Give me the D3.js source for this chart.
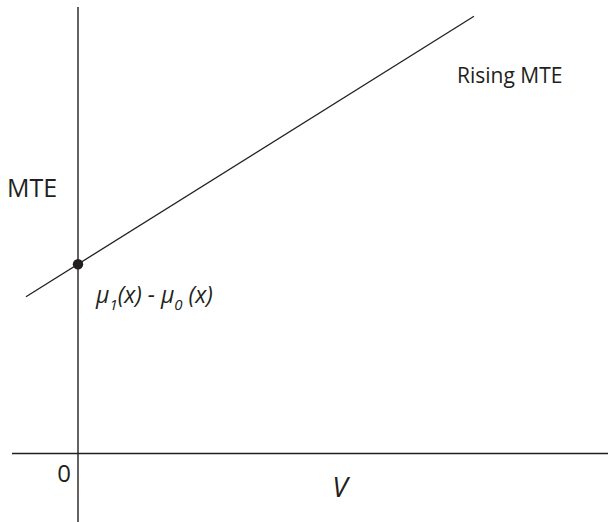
<!DOCTYPE html>
<html>
<head>
<meta charset="utf-8">
<script src="https://cdn.jsdelivr.net/npm/d3@7"></script>
<style>
html,body{margin:0;padding:0;background:#fff;}
svg{display:block;}
text{font-family:"Open Sans",sans-serif;fill:#231f20;}
</style>
</head>
<body>
<svg id="chart" width="608" height="522"></svg>
<script>
// Data (V on x, MTE on y)
const lineV = [-0.13, 0.99];
const lineMTE = [0.392, 1.093];
const interceptV = [0];
const interceptMTE = [0.473];
const xAxisExtent = [-0.165, 1.325];
const yAxisExtent = [-0.172, 1.116];
const labels = ["MTE", "0", "V", "Rising MTE"];

const svg = d3.select("#chart");
const x = d3.scaleLinear().domain([0, 1]).range([78, 478]);
const y = d3.scaleLinear().domain([0, 1]).range([453.5, 53.5]);
const ink = "#231f20";

// axes
svg.append("line")
  .attr("x1", x(xAxisExtent[0])).attr("x2", x(xAxisExtent[1]))
  .attr("y1", y(0)).attr("y2", y(0))
  .attr("stroke", ink).attr("stroke-width", 1.4);
svg.append("line")
  .attr("x1", x(0)).attr("x2", x(0))
  .attr("y1", y(yAxisExtent[1])).attr("y2", y(yAxisExtent[0]))
  .attr("stroke", ink).attr("stroke-width", 1.4);

// MTE line
const pts = lineV.map((v, i) => [v, lineMTE[i]]);
svg.append("path")
  .datum(pts)
  .attr("d", d3.line().x(d => x(d[0])).y(d => y(d[1])))
  .attr("fill", "none").attr("stroke", ink).attr("stroke-width", 1.3);

// intercept dot
svg.selectAll("circle.dot").data(interceptV.map((v, i) => [v, interceptMTE[i]]))
  .enter().append("circle")
  .attr("cx", d => x(d[0])).attr("cy", d => y(d[1]))
  .attr("r", 5.2).attr("fill", ink);

// labels
svg.append("text").attr("x", 7).attr("y", 197)
  .style("font-size", "25px").text(labels[0]);
svg.append("text").attr("x", 71).attr("y", 482).attr("text-anchor", "end")
  .style("font-size", "24px").text(labels[1]);
svg.append("text").attr("x", 340).attr("y", 497).attr("text-anchor", "middle")
  .style("font-size", "28px").style("font-style", "italic").text(labels[2]);
svg.append("text").attr("x", 457).attr("y", 83)
  .style("font-size", "21px").text(labels[3]);

// mu label
const mu = svg.append("text").attr("x", 96).attr("y", 303)
  .style("font-size", "23px").style("font-style", "italic");
mu.append("tspan").text("\u03bc");
mu.append("tspan").attr("dy", 7).style("font-size", "15px").text("1");
mu.append("tspan").attr("dy", -7).text("(x) - \u03bc");
mu.append("tspan").attr("dy", 7).style("font-size", "15px").text("0");
mu.append("tspan").attr("dy", -7).text(" (x)");
</script>
</body>
</html>
